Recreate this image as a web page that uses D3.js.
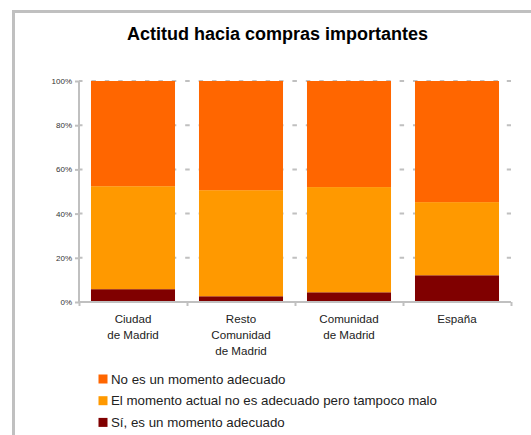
<!DOCTYPE html>
<html><head><meta charset="utf-8">
<script src="https://cdn.jsdelivr.net/npm/d3@7"></script>
<style>body{margin:0;background:#fff}svg{display:block;font-family:"Liberation Sans",Arial,sans-serif}</style>
</head><body><svg id="c" width="531" height="435"></svg>
<script>
const categories = [["Ciudad","de Madrid"],["Resto","Comunidad","de Madrid"],["Comunidad","de Madrid"],["España"]];
const seriesNames = ["Sí, es un momento adecuado","El momento actual no es adecuado pero tampoco malo","No es un momento adecuado"];
const siValues = [5.8, 2.6, 4.4, 12.1];
const neutralValues = [46.6, 48.0, 47.6, 33.1];
const noValues = [47.6, 49.4, 48.0, 54.8];
const colors = ["#800000","#FF9900","#FF6600"];
const yTicks = [0,20,40,60,80,100];

const svg = d3.select("#c");
const grey = "#c0c0c0";
// outer frame
svg.append("rect").attr("x",13.5).attr("y",11.5).attr("width",600).attr("height",500)
  .attr("fill","none").attr("stroke",grey).attr("stroke-width",3);

svg.append("text").attr("x",277.5).attr("y",40).attr("text-anchor","middle")
  .attr("font-size",18).attr("font-weight","bold").attr("fill","#000")
  .text("Actitud hacia compras importantes");

const x = d3.scaleBand().domain(d3.range(categories.length)).range([79,511]).paddingInner(0.222).paddingOuter(0.111);
const y = d3.scaleLinear().domain([0,100]).range([302,81]);

// gridlines
svg.append("g").selectAll("line").data(yTicks.filter(d=>d>0)).join("line")
  .attr("x1",79).attr("x2",511).attr("y1",d=>y(d)).attr("y2",d=>y(d))
  .attr("stroke",grey).attr("stroke-width",2).attr("stroke-dasharray","4.5,8.9").attr("stroke-dashoffset",-12.4);

// stacked bars
const rows = categories.map((c,i)=>({i, si:siValues[i], mid:neutralValues[i], no:noValues[i]}));
const stack = d3.stack().keys(["si","mid","no"])(rows);
svg.append("g").selectAll("g").data(stack).join("g").attr("fill",(d,k)=>colors[k])
  .selectAll("rect").data(d=>d).join("rect")
  .attr("x",d=>x(d.data.i)).attr("width",x.bandwidth())
  .attr("y",d=>y(d[1])).attr("height",d=>y(d[0])-y(d[1]));

// y axis
const yAxis = svg.append("g").attr("transform","translate(79,0)")
  .call(d3.axisLeft(y).tickValues(yTicks).tickFormat(d=>d+"%").tickSize(4).tickPadding(3));
yAxis.select(".domain").attr("stroke",grey).attr("stroke-width",2).attr("d","M0,81V303");
yAxis.selectAll(".tick line").attr("stroke",grey).attr("stroke-width",2);
yAxis.selectAll(".tick text").attr("font-size",8).attr("fill","#333").attr("font-family","Liberation Sans, Arial");

// x axis
const xb = d3.scaleLinear().domain([0,4]).range([79,511]);
const xAxis = svg.append("g").attr("transform","translate(0,302)")
  .call(d3.axisBottom(xb).ticks(4).tickFormat("").tickSize(4));
xAxis.select(".domain").attr("stroke",grey).attr("stroke-width",2).attr("d","M78,0H511");
xAxis.selectAll(".tick line").attr("stroke",grey).attr("stroke-width",2);

// category labels
const lab = svg.append("g").selectAll("text").data(categories).join("text")
  .attr("text-anchor","middle").attr("font-size",11.6).attr("fill","#222")
  .attr("transform",(d,i)=>`translate(${x(i)+x.bandwidth()/2},323)`);
lab.selectAll("tspan").data(d=>d).join("tspan").attr("x",0).attr("dy",(d,j)=>j?15.8:0).text(d=>d);

// legend
const legOrder = [2,1,0];
const lg = svg.append("g").selectAll("g").data(legOrder).join("g")
  .attr("transform",(d,j)=>`translate(98.5,${374.5+j*21.7})`);
lg.append("rect").attr("width",9).attr("height",9).attr("fill",d=>colors[d]);
lg.append("text").attr("x",12.5).attr("y",9).attr("font-size",13.3).attr("fill","#222").text(d=>seriesNames[d]);
</script></body></html>
